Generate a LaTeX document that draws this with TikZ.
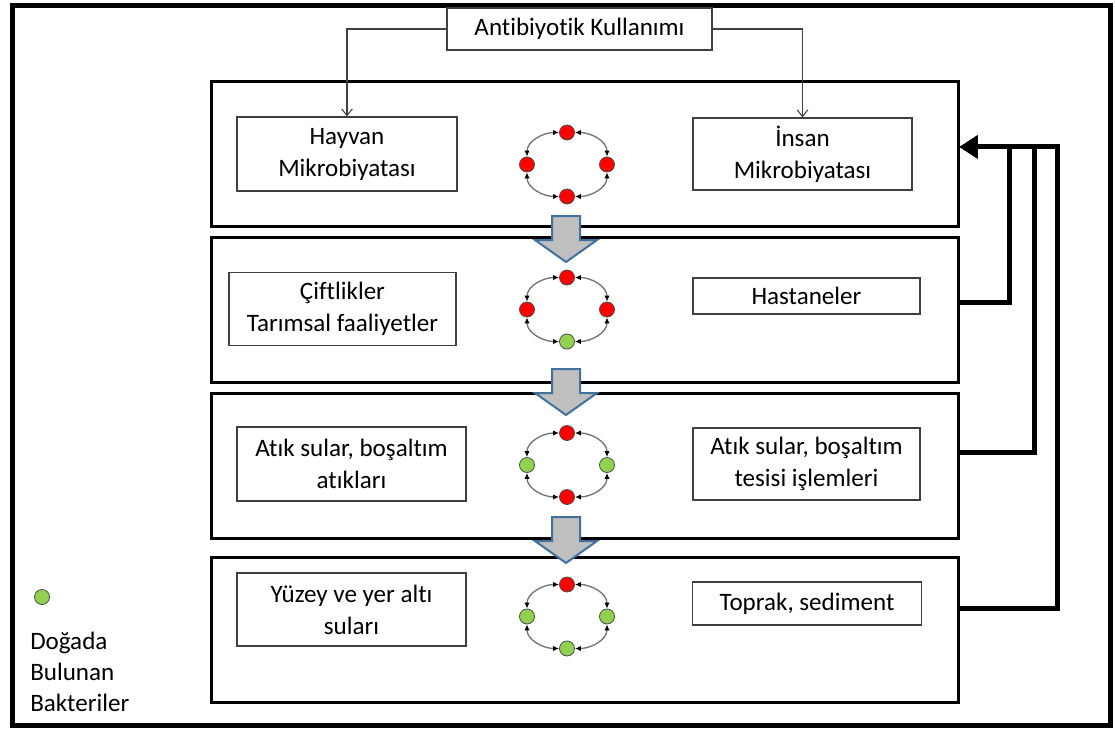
\documentclass[tikz,border=0pt]{standalone}
\usepackage{fontspec}
\setmainfont[Ligatures={NoCommon}]{Carlito}
\usetikzlibrary{positioning, arrows.meta}
\definecolor{CycRed}{HTML}{FF0000}
\definecolor{CycGreen}{HTML}{92D050}
\definecolor{ArrowFill}{HTML}{BFBFBF}
\definecolor{ArrowEdge}{HTML}{41719C}
\definecolor{BoxEdge}{HTML}{404040}

\begin{document}
\begin{tikzpicture}[
            x=0.75pt, y=-0.75pt,
            node distance=6pt,
            stage/.style={draw, line width=2.25pt, minimum width=560.25pt, minimum height=108.75pt},
            box/.style={draw=BoxEdge, line width=0.9pt, align=center, inner sep=0pt, font=\fontsize{18.8}{24}\selectfont},
            legendtext/.style={align=left, inner sep=0pt, font=\fontsize{18.8}{23}\selectfont},
            dot/.style={circle, draw=black!70, line width=0.6pt, minimum size=11.25pt, inner sep=0pt},
            cyc/.style={draw=black!55, line width=1pt, {Latex[length=4.5pt,width=4pt,color=black]}-{Latex[length=4.5pt,width=4pt,color=black]}},
            feed/.style={line width=3.75pt, line join=miter, -{Triangle[length=13.5pt,width=16.5pt]}},
            usage/.style={draw=black!75, line width=0.8pt, -{Straight Barb[length=5pt,width=8pt]}},
            blockarrow/.style={fill=ArrowFill, draw=ArrowEdge, line width=1.5pt, line join=miter}
        ]
            \useasboundingbox (0,0) rectangle (1115,729);
            \draw[line width=3.75pt] (12,5) rectangle (1110,725);

            % stages
            \node[stage] (s1) at (584.5,153.5) {};
            \node[stage, below=of s1] (s2) {};
            \node[stage, below=of s2] (s3) {};
            \node[stage, below=12pt of s3] (s4) {};

            \node[box, minimum width=198.75pt, minimum height=31.5pt, fill=white] (ab) at (579.5,29) {Antibiyotik Kullanımı};

            \node[box, minimum width=165pt, minimum height=55.5pt] (hayvan) at (347,154) {Hayvan\\Mikrobiyatası};
            \node[box, minimum width=164.25pt, minimum height=54pt] (insan) at (802.5,154) {İnsan\\Mikrobiyatası};

            \node[box, minimum width=170.25pt, minimum height=54.75pt] (ciftlik) at (342.5,309) {Çiftlikler\\Tarımsal faaliyetler};
            \node[box, minimum width=170.25pt, minimum height=27pt] (hastane) at (806.5,296) {Hastaneler};

            \node[box, minimum width=171.75pt, minimum height=55.5pt] (atikl) at (351.5,464) {Atık sular, boşaltım\\atıkları};
            \node[box, minimum width=170.25pt, minimum height=54pt] (atikr) at (806.5,464) {Atık sular, boşaltım\\tesisi işlemleri};

            \node[box, minimum width=171.75pt, minimum height=54.75pt] (yuzey) at (351.5,609.5) {Yüzey ve yer altı\\suları};
            \node[box, minimum width=171.75pt, minimum height=32.25pt] (toprak) at (807,603.5) {Toprak, sediment};

            \draw[usage] (ab.west) -| (hayvan.north);
            \draw[usage] (ab.east) -| (insan.north);

            % bacteria cycles
            \foreach \i/\cy/\ct/\cr/\cb/\cl in {1/164.5/CycRed/CycRed/CycRed/CycRed,
                                                2/309.5/CycRed/CycRed/CycGreen/CycRed,
                                                3/465/CycRed/CycGreen/CycRed/CycGreen,
                                                4/616.5/CycRed/CycGreen/CycGreen/CycGreen} {
                \node[dot, fill=\ct] (c\i t) at (567,\cy-32) {};
                \node[dot, fill=\cr] (c\i r) at (607,\cy) {};
                \node[dot, fill=\cb] (c\i b) at (567,\cy+32) {};
                \node[dot, fill=\cl] (c\i l) at (527,\cy) {};
                \draw[cyc] (c\i t) to[out=0, in=90] (c\i r);
                \draw[cyc] (c\i r) to[out=-90, in=0] (c\i b);
                \draw[cyc] (c\i b) to[out=180, in=-90] (c\i l);
                \draw[cyc] (c\i l) to[out=90, in=180] (c\i t);
            }

            % arrows between stages
            \foreach \ty in {262,415,563}
                \draw[blockarrow] (552,\ty-46) -- (580,\ty-46) -- (580,\ty-22) -- (597,\ty-22) -- (566,\ty) -- (535,\ty-22) -- (552,\ty-22) -- cycle;

            % feedback to human microbiota
            \draw[feed] ([yshift=4.9pt]s2.east) -- ++(50,0) |- ([yshift=4.9pt]s1.east);
            \draw[feed] ([yshift=9.4pt]s3.east) -- ++(75,0) |- ([yshift=4.9pt]s1.east);
            \draw[feed] ([yshift=16.1pt]s4.east) -- ++(98,0) |- ([yshift=4.9pt]s1.east);

            % legend
            \node[dot, fill=CycGreen] (lgdot) at (42,597) {};
            \node[legendtext, anchor=west] (lgtext) at (30,672) {Doğada\\Bulunan\\Bakteriler};
        \end{tikzpicture}
\end{document}
